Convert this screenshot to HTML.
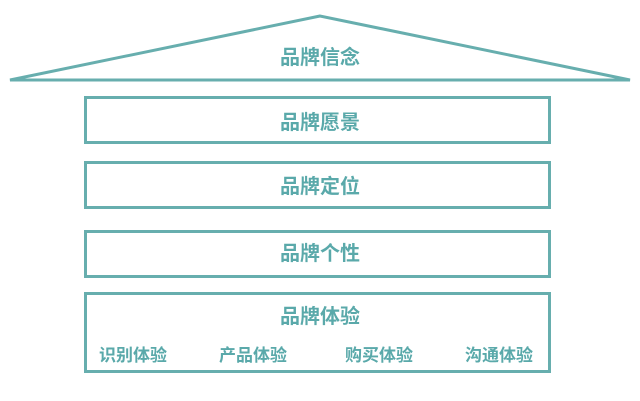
<!DOCTYPE html>
<html><head><meta charset="utf-8"><style>
html,body{margin:0;padding:0;background:#fff;}
svg{display:block;}
text{font-family:"Liberation Sans","Noto Sans CJK SC",sans-serif;font-weight:bold;fill:#5aa9aa;text-anchor:middle;}
</style></head><body>
<svg width="640" height="401" viewBox="0 0 640 401">
<g fill="none" stroke="#67aeae" stroke-width="3">
<polygon points="320,16 10,80 630,80" stroke-linejoin="miter"/>
<rect x="85.5" y="97.5" width="464" height="45"/>
<rect x="85.5" y="162.5" width="464" height="45"/>
<rect x="85.5" y="231.5" width="464" height="45"/>
<rect x="85.5" y="293.5" width="464" height="78"/>
</g>
<text x="320" y="64" font-size="20">品牌信念</text>
<text x="320" y="129" font-size="20">品牌愿景</text>
<text x="320" y="193" font-size="20">品牌定位</text>
<text x="320" y="260" font-size="20">品牌个性</text>
<text x="320" y="323" font-size="20">品牌体验</text>
<text x="133" y="361" font-size="17">识别体验</text>
<text x="253" y="361" font-size="17">产品体验</text>
<text x="379" y="361" font-size="17">购买体验</text>
<text x="499" y="361" font-size="17">沟通体验</text>
</svg>
</body></html>
